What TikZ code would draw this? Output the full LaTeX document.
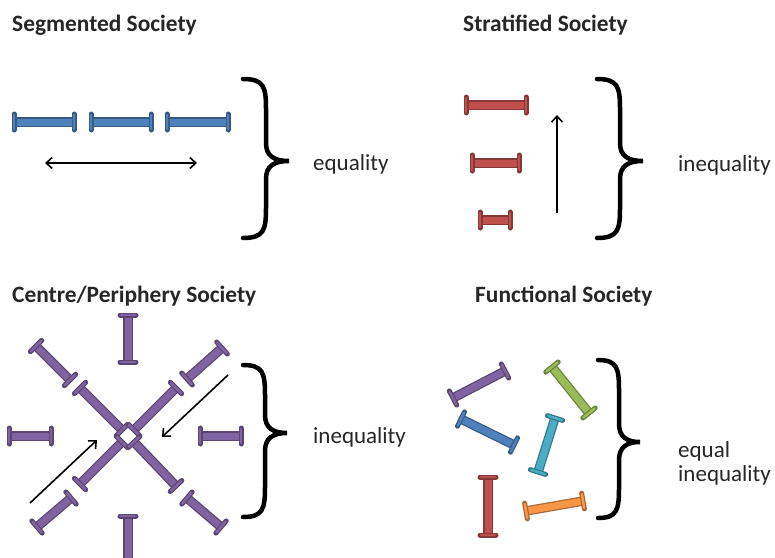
\documentclass[tikz,border=0pt]{standalone}
\usepackage{fontspec}
\setmainfont{Carlito}
\usetikzlibrary{calc,arrows.meta}
\definecolor{cBlue}{HTML}{4F81BD}
\definecolor{cRed}{HTML}{C0504D}
\definecolor{cPurple}{HTML}{8064A2}
\definecolor{cGreen}{HTML}{9BBB59}
\definecolor{cCyan}{HTML}{4BACC6}
\definecolor{cOrange}{HTML}{F79646}
\newcommand\mybeam[3]{%
  \coordinate (bA) at (#2); \coordinate (bB) at (#3);
  \draw[line width=9.5pt, #1!70!black] (bA) -- (bB);
  \draw[line width=7pt, #1] (bA) -- (bB);
  \draw[line width=5pt, line cap=round, #1!70!black] ($(bA)!8pt!90:(bB)$) -- ($(bA)!8pt!-90:(bB)$);
  \draw[line width=5pt, line cap=round, #1!70!black] ($(bB)!8pt!90:(bA)$) -- ($(bB)!8pt!-90:(bA)$);
  \draw[line width=2.5pt, line cap=round, #1] ($(bA)!7pt!90:(bB)$) -- ($(bA)!7pt!-90:(bB)$);
  \draw[line width=2.5pt, line cap=round, #1] ($(bB)!7pt!90:(bA)$) -- ($(bB)!7pt!-90:(bA)$);
}
\newcommand\mybrace[5]{%
  \pgfmathsetmacro\bs{(#1+#4)/2}
  \draw[bracestyle] (#1,#2) .. controls (\bs-2,#2) and (\bs,#2+8) .. (\bs,#2+30)
    -- (\bs,#5-18) .. controls (\bs,#5-5) and (\bs+8,#5) .. (#4,#5)
    .. controls (\bs+8,#5) and (\bs,#5+5) .. (\bs,#5+18)
    -- (\bs,#3-30) .. controls (\bs,#3-8) and (\bs-2,#3) .. (#1,#3);
}
\tikzset{
  title/.style={font=\fontsize{23.4}{27}\selectfont\bfseries, anchor=base west, inner sep=0pt, text=black!85},
  label/.style={font=\fontsize{23}{27}\selectfont, anchor=base west, inner sep=0pt, text=black!85},
  bracestyle/.style={line width=4.5pt, line cap=round, black},
  arr/.style={line width=1.6pt, -{Straight Barb[length=6pt,width=11pt]}},
  darr/.style={line width=1.6pt, {Straight Barb[length=6pt,width=11pt]}-{Straight Barb[length=6pt,width=11pt]}}
}
\begin{document}
\begin{tikzpicture}[x=1pt,y=-1pt]
\useasboundingbox[fill=white] (0,0) rectangle (775,557);
% ---------- Segmented
\node[title] (t1) at (12,31) {Segmented Society};
\mybeam{cBlue}{14,122}{74,122}
\mybeam{cBlue}{91,122}{151,122}
\mybeam{cBlue}{167,122}{228,122}
\coordinate (s1) at (45,163); \coordinate (s2) at (197,163);
\draw[darr] (s1) -- (s2);
\mybrace{243}{79}{238}{289}{161}
\node[label] (l1) at (313,170) {equality};
% ---------- Stratified
\node[title] (t2) at (463,31) {Stratified Society};
\mybeam{cRed}{466,105}{526,105}
\mybeam{cRed}{472,163}{519,163}
\mybeam{cRed}{480,220}{510,220}
\coordinate (u1) at (557,213); \coordinate (u2) at (557,115);
\draw[arr] (u1) -- (u2);
\mybrace{597}{79}{238}{643}{161}
\node[label] (l2) at (678,171) {inequality};
% ---------- Centre/Periphery
\node[title] (t3) at (12,302) {Centre/Periphery Society};
\coordinate (cc) at (128,436);
\mybeam{cPurple}{$(cc)+(-6,-6)$}{80,388}
\mybeam{cPurple}{$(cc)+(6,-6)$}{176,388}
\mybeam{cPurple}{$(cc)+(-6,6)$}{80,484}
\mybeam{cPurple}{$(cc)+(6,6)$}{176,486}
\fill[white] ($(cc)+(0,-6)$) -- ($(cc)+(6,0)$) -- ($(cc)+(0,6)$) -- ($(cc)+(-6,0)$) -- cycle;
\mybeam{cPurple}{128,315}{128,362}
\mybeam{cPurple}{128,516}{128,565}
\mybeam{cPurple}{9,436}{51,436}
\mybeam{cPurple}{200,436}{241,436}
\mybeam{cPurple}{36,346}{70,380}
\mybeam{cPurple}{187,379}{222,348}
\mybeam{cPurple}{37,527}{71,498}
\mybeam{cPurple}{187,498}{221,527}
\coordinate (a1) at (30,503); \coordinate (a2) at (97,440);
\draw[arr] (a1) -- (a2);
\coordinate (a3) at (228,375); \coordinate (a4) at (162,437);
\draw[arr] (a3) -- (a4);
\mybrace{243}{365}{517}{287}{433}
\node[label] (l3) at (313,443) {inequality};
% ---------- Functional
\node[title] (t4) at (475,302) {Functional Society};
\mybeam{cPurple}{453,398}{505,371}
\mybeam{cGreen}{552,367}{589,413}
\mybeam{cBlue}{461,419}{514,445}
\mybeam{cCyan}{555,418}{538,472}
\mybeam{cRed}{488,477}{488,535}
\mybeam{cOrange}{526,511}{583,501}
\mybrace{598}{360}{518}{640}{442}
\node[label] (l4) at (678,457) {equal};
\node[label] (l5) at (678,481) {inequality};
\end{tikzpicture}
\end{document}
